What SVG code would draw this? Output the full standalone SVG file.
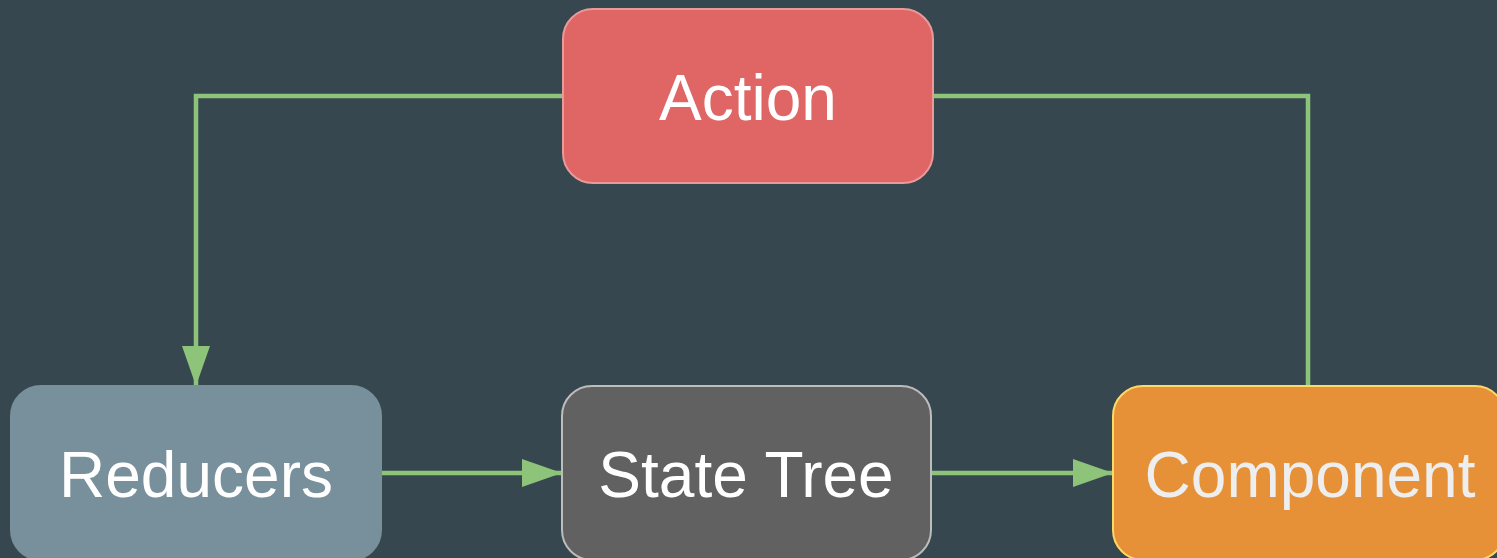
<svg xmlns="http://www.w3.org/2000/svg" width="1497" height="558" viewBox="0 0 1497 558">
<style>
.lbl{font-family:"Liberation Sans",Arial,sans-serif;font-size:64px;text-anchor:middle;fill:#ffffff}
.edge{fill:none;stroke:#8dc47a;stroke-width:4.5}
</style>
<defs>
<marker id="arr" markerUnits="userSpaceOnUse" markerWidth="40" markerHeight="28" refX="40" refY="14" orient="auto">
<path d="M0,0 L40,14 L0,28 Z" fill="#8dc47a"/>
</marker>
</defs>
<rect width="1497" height="558" fill="#37474f"/>
<g id="connectors">
<path class="edge" d="M563,96 H196 V386" marker-end="url(#arr)"/>
<path class="edge" d="M933,96 H1308 V386"/>
<path class="edge" d="M381,473 H562" marker-end="url(#arr)"/>
<path class="edge" d="M931,473 H1113" marker-end="url(#arr)"/>
</g>
<g id="action">
<rect x="563" y="9" width="370" height="174" rx="30" fill="#e06666" stroke="#ea9999" stroke-width="2"/>
<text class="lbl" x="748" y="120">Action</text>
</g>
<g id="reducers">
<rect x="11" y="386" width="370" height="174" rx="30" fill="#78909c" stroke="#78909c" stroke-width="2"/>
<text class="lbl" x="196" y="497">Reducers</text>
</g>
<g id="state-tree">
<rect x="562" y="386" width="369" height="174" rx="30" fill="#616161" stroke="#bdbdbd" stroke-width="2"/>
<text class="lbl" x="746" y="497">State Tree</text>
</g>
<g id="component">
<rect x="1113" y="386" width="392" height="174" rx="30" fill="#e69138" stroke="#ffd966" stroke-width="2"/>
<text class="lbl" x="1310" y="497" style="fill:#eeeeee">Component</text>
</g>
</svg>
